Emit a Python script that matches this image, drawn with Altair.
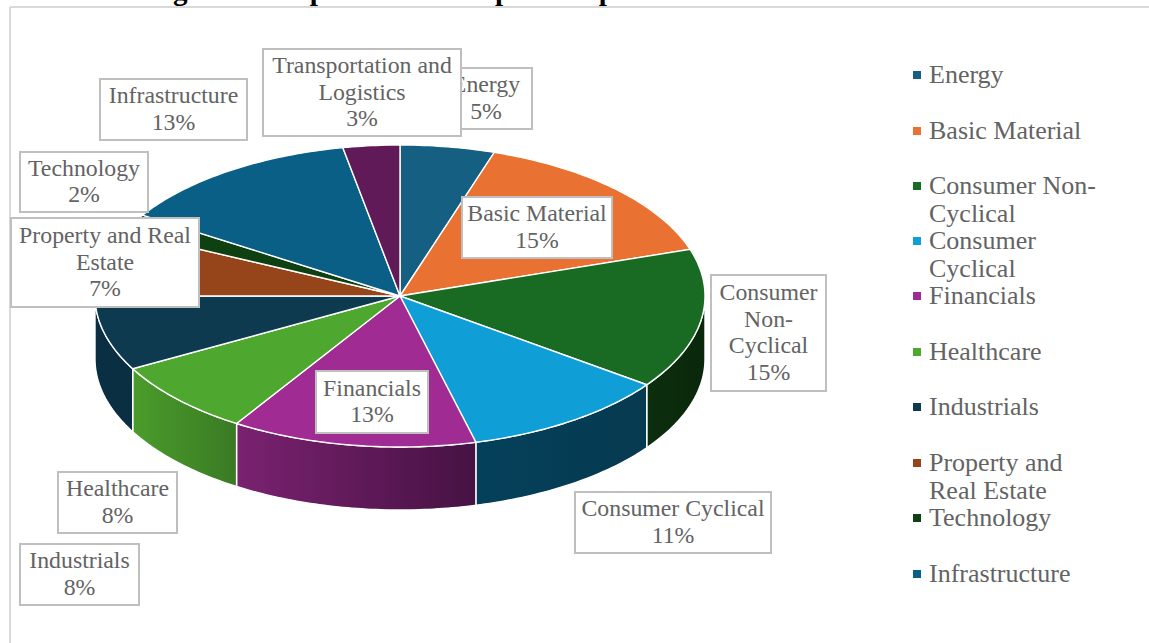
import math
import altair as alt
import pandas as pd

# Sector shares of the sample, in percent, clockwise from twelve o'clock
sectors = ["Energy", "Basic Material", "Consumer Non-Cyclical", "Consumer Cyclical",
           "Financials", "Healthcare", "Industrials", "Property and Real Estate",
           "Technology", "Infrastructure", "Transportation and Logistics"]
shares = [5, 15, 15, 11, 13, 8, 8, 7, 2, 13, 3]
top_colors = ["#156082", "#E97132", "#196B24", "#0F9ED5", "#A02B93", "#4EA72E",
              "#0D3A4E", "#96441A", "#0F4012", "#095F85", "#601A58"]

# Wrapped text for the callouts and the key
callout_lines = {
    "Energy": ["Energy"],
    "Basic Material": ["Basic Material"],
    "Consumer Non-Cyclical": ["Consumer", "Non-", "Cyclical"],
    "Consumer Cyclical": ["Consumer Cyclical"],
    "Financials": ["Financials"],
    "Healthcare": ["Healthcare"],
    "Industrials": ["Industrials"],
    "Property and Real Estate": ["Property and Real", "Estate"],
    "Technology": ["Technology"],
    "Infrastructure": ["Infrastructure"],
    "Transportation and Logistics": ["Transportation and", "Logistics"],
}
key_lines = {
    "Energy": ["Energy"],
    "Basic Material": ["Basic Material"],
    "Consumer Non-Cyclical": ["Consumer Non-", "Cyclical"],
    "Consumer Cyclical": ["Consumer", "Cyclical"],
    "Financials": ["Financials"],
    "Healthcare": ["Healthcare"],
    "Industrials": ["Industrials"],
    "Property and Real Estate": ["Property and", "Real Estate"],
    "Technology": ["Technology"],
    "Infrastructure": ["Infrastructure"],
}
chart_title = "Figure 4. Proportion of Sample Companies based on Industries"

# Page layout, in pixels
W, H = 1149, 643
CX, CY, RX, RY, DEPTH = 400, 296, 305, 151, 63
FONT = "Liberation Serif"
CALLOUT_SIZE = 23.8
KEY_SIZE = 26
LINE = 26.5
KEY_LINE = 28
TEXT_COLOR = "#636363"
BOX_COLOR = "#bfbfbf"

# Callout boxes: left, top, right, bottom; the Energy box sits under the Transportation one
boxes = {
    "Energy": (440, 68, 532, 129),
    "Transportation and Logistics": (263, 49, 461, 136),
    "Infrastructure": (100, 79, 247, 140),
    "Technology": (20, 152, 148, 212),
    "Property and Real Estate": (11, 218, 199, 307),
    "Basic Material": (462, 197, 612, 258),
    "Consumer Non-Cyclical": (711, 275, 826, 391),
    "Consumer Cyclical": (575, 492, 771, 553),
    "Financials": (316, 371, 428, 433),
    "Healthcare": (58, 472, 177, 533),
    "Industrials": (20, 544, 139, 605),
}
# Key rows: vertical centre of each entry's first line
key_rows = [75, 131, 186, 241, 296, 352, 407, 463, 518, 574]
# Side wall colours: sector, left and right stops of the horizontal shading
wall_colors = {
    "Consumer Non-Cyclical": ("#0C2F0E", "#0A270B"),
    "Consumer Cyclical": ("#04405A", "#063A50"),
    "Financials": ("#7A2270", "#461243"),
    "Healthcare": ("#4A9C2B", "#3A7A24"),
    "Industrials": ("#0A2F43", "#0A2F43"),
}


def rim(pct, dy=0.0):
    """Point on the tilted rim for a cumulative share in percent."""
    a = 2 * math.pi * pct / 100
    return [CX + RX * math.sin(a), CY - RY * math.cos(a) + dy]


def arc_points(p0, p1, dy=0.0):
    steps = max(int((p1 - p0) * 4), 2)
    return [rim(p0 + (p1 - p0) * i / steps, dy) for i in range(steps + 1)]


def feature(ring, name):
    return {"type": "Feature", "properties": {"sector": name},
            "geometry": {"type": "Polygon", "coordinates": [ring + [ring[0]]]}}


pixel_projection = dict(type="identity", scale=1, translate=[0, 0])

layers = []

# Frame of the chart area
frame = "#d9d9d9"
layers.append(alt.Chart(pd.DataFrame({"a": [0]})).mark_rule(color=frame, strokeWidth=2).encode(
    x=alt.value(10), x2=alt.value(W), y=alt.value(7)))
layers.append(alt.Chart(pd.DataFrame({"a": [0]})).mark_rule(color=frame, strokeWidth=2).encode(
    x=alt.value(10), y=alt.value(7), y2=alt.value(H)))

# Heading, running off the top edge
layers.append(alt.Chart(pd.DataFrame({"t": [chart_title]})).mark_text(
    font=FONT, fontSize=29, fontWeight="bold", color="#000000", align="center", baseline="alphabetic"
).encode(text="t:N", x=alt.value(537), y=alt.value(-0.4)))

# Cumulative bounds of every slice
starts, total = [], 0
for s in shares:
    starts.append(total)
    total += s
bounds = {n: (b, b + s) for n, b, s in zip(sectors, starts, shares)}

# Side walls of the disc, front half only
for name, (left, right) in wall_colors.items():
    p0, p1 = bounds[name]
    p0, p1 = max(p0, 25), min(p1, 75)
    top = arc_points(p0, p1)
    bottom = arc_points(p0, p1, DEPTH)
    ring = top + bottom[::-1]
    # Shading stops go by screen side, left to right
    gradient = alt.Gradient(gradient="linear", x1=0, x2=1, y1=0, y2=0,
                            stops=[alt.GradientStop(color=left, offset=0),
                                   alt.GradientStop(color=right, offset=1)])
    layers.append(alt.Chart(alt.InlineData(
        values={"type": "FeatureCollection", "features": [feature(ring, name)]},
        format=alt.DataFormat(type="json", property="features"))
    ).mark_geoshape(fill=gradient, stroke="#ffffff", strokeWidth=1.4).project(**pixel_projection))

# Top face of the disc
slices = [feature([[CX, CY]] + arc_points(*bounds[n]), n) for n in sectors]
layers.append(alt.Chart(alt.InlineData(
    values={"type": "FeatureCollection", "features": slices},
    format=alt.DataFormat(type="json", property="features"))
).mark_geoshape(stroke="#ffffff", strokeWidth=1.4).encode(
    color=alt.Color("properties.sector:N", legend=None,
                    scale=alt.Scale(domain=sectors, range=top_colors))
).project(**pixel_projection))

share_of = dict(zip(sectors, shares))


def text_block(lines, x, y, align, size, line_height):
    df = pd.DataFrame({"t": ["\n".join(lines)]})
    return alt.Chart(df).mark_text(
        font=FONT, fontSize=size, color=TEXT_COLOR, align=align,
        baseline="middle", lineBreak="\n", lineHeight=line_height
    ).encode(text="t:N", x=alt.value(x), y=alt.value(y))


# Callouts
for name, (x0, y0, x1, y1) in boxes.items():
    layers.append(alt.Chart(pd.DataFrame({"a": [0]})).mark_rect(
        fill="#ffffff", stroke=BOX_COLOR, strokeWidth=2
    ).encode(x=alt.value(x0), x2=alt.value(x1), y=alt.value(y0), y2=alt.value(y1)))
    lines = callout_lines[name] + [f"{share_of[name]}%"]
    first = (y0 + y1) / 2 - (len(lines) - 1) * LINE / 2
    layers.append(text_block(lines, (x0 + x1) / 2, first, "center", CALLOUT_SIZE, LINE))

# Key on the right
for (name, lines), row in zip(key_lines.items(), key_rows):
    color = top_colors[sectors.index(name)]
    layers.append(alt.Chart(pd.DataFrame({"a": [0]})).mark_rect(fill=color).encode(
        x=alt.value(913), x2=alt.value(921), y=alt.value(row - 4), y2=alt.value(row + 4)))
    layers.append(text_block(lines, 929, row, "left", KEY_SIZE, KEY_LINE))

chart = alt.layer(*layers).properties(
    width=W, height=H, padding=0, autosize="none", background="#ffffff"
).configure_view(stroke=None)

chart.save("out.html", embed_options={"renderer": "svg", "actions": False})
